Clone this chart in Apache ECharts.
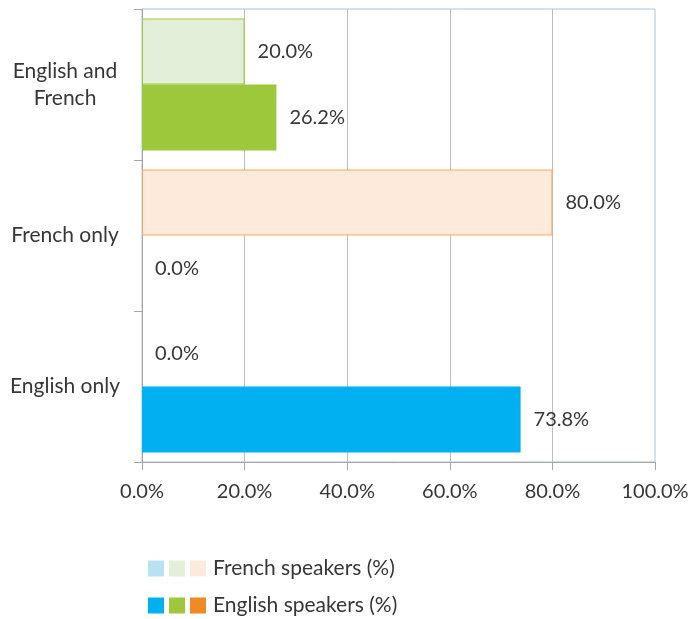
<!DOCTYPE html>
<html>
<head>
    <meta charset="utf-8">
    <title>Speakers</title>
    <script src="https://cdn.jsdelivr.net/npm/echarts@6/dist/echarts.min.js"></script>
    <style>
        html, body { margin: 0; padding: 0; background: #fff; }
        #chart { width: 692px; height: 619px; }
    </style>
</head>
<body>
<div id="chart"></div>
<script>
    // data (bottom to top)
    var categories = ['English only', 'French only', 'English and\nFrench'];
    var frenchSpeakers = [0.0, 80.0, 20.0];
    var englishSpeakers = [73.8, 0.0, 26.2];
    var xTicks = [0, 20, 40, 60, 80, 100];
    var seriesNames = ['French speakers (%)', 'English speakers (%)'];

    // colours per category
    var frenchFill = ['#b8e2f4', '#fdeada', '#e2efd9'];
    var frenchBorder = ['#00b0f0', '#f8a766', '#9dc83b'];
    var englishFill = ['#00b0f0', '#f08a24', '#9dc83b'];

    var fontName = 'Lato, "Open Sans", sans-serif';
    var textColor = '#363636';

    function buildData(values, fills, borders) {
        return values.map(function (v, i) {
            var hasBorder = borders && v > 0;
            return {
                value: v,
                itemStyle: {
                    color: fills[i],
                    borderColor: hasBorder ? borders[i] : fills[i],
                    borderWidth: hasBorder ? 1 : 0
                }
            };
        });
    }

    // legend: three swatches (one per category colour) in front of the name
    function makeLegend(name, fills, top) {
        return {
            left: 143,
            top: top,
            padding: 0,
            itemWidth: 0,
            itemHeight: 0,
            icon: 'rect',
            data: [name],
            textStyle: {
                color: textColor,
                fontSize: 21,
                fontFamily: fontName,
                rich: {
                    s1: { width: 16, height: 16, backgroundColor: fills[0] },
                    s2: { width: 16, height: 16, backgroundColor: fills[2] },
                    s3: { width: 16, height: 16, backgroundColor: fills[1] },
                    g: { width: 5, height: 16 },
                    t: { color: textColor, fontSize: 21, fontFamily: fontName, padding: [0, 0, 0, 7] }
                }
            },
            formatter: function (n) {
                return '{s1|}{g|}{s2|}{g|}{s3|}{t|' + n + '}';
            }
        };
    }

    var barLabel = {
        show: true,
        position: 'right',
        distance: 13,
        color: textColor,
        fontSize: 20,
        fontFamily: fontName,
        formatter: function (p) { return p.value.toFixed(1) + '%'; }
    };

    var chart = echarts.init(document.getElementById('chart'));
    chart.setOption({
        animation: false,
        grid: {
            left: 142, right: 37, top: 9, bottom: 157,
            show: true,
            borderColor: '#a9c3df',
            borderWidth: 1,
            backgroundColor: 'transparent'
        },
        legend: [
            makeLegend(seriesNames[0], frenchFill, 558),
            makeLegend(seriesNames[1], englishFill, 595)
        ],
        xAxis: {
            type: 'value',
            min: xTicks[0],
            max: xTicks[xTicks.length - 1],
            interval: 20,
            axisLine: { show: true, lineStyle: { color: '#a6a6a6' } },
            axisTick: { show: true, length: 8, lineStyle: { color: '#a6a6a6' } },
            axisLabel: {
                margin: 20,
                color: textColor,
                fontSize: 20,
                fontFamily: fontName,
                formatter: function (v) { return v.toFixed(1) + '%'; }
            },
            splitLine: { show: true, showMaxLine: false, lineStyle: { color: '#bdbdbd' } }
        },
        yAxis: {
            type: 'category',
            data: categories,
            axisLine: { show: true, lineStyle: { color: '#a6a6a6' } },
            axisTick: { show: true, length: 8, lineStyle: { color: '#a6a6a6' } },
            axisLabel: {
                margin: 77,
                align: 'center',
                color: textColor,
                fontSize: 21,
                lineHeight: 27,
                fontFamily: fontName
            }
        },
        series: [
            {
                name: seriesNames[0],
                type: 'bar',
                barWidth: 66,
                barGap: '0%',
                data: buildData(frenchSpeakers, frenchFill, frenchBorder),
                label: barLabel
            },
            {
                name: seriesNames[1],
                type: 'bar',
                barWidth: 66,
                barGap: '0%',
                data: buildData(englishSpeakers, englishFill, null),
                label: barLabel
            }
        ]
    });
</script>
</body>
</html>
